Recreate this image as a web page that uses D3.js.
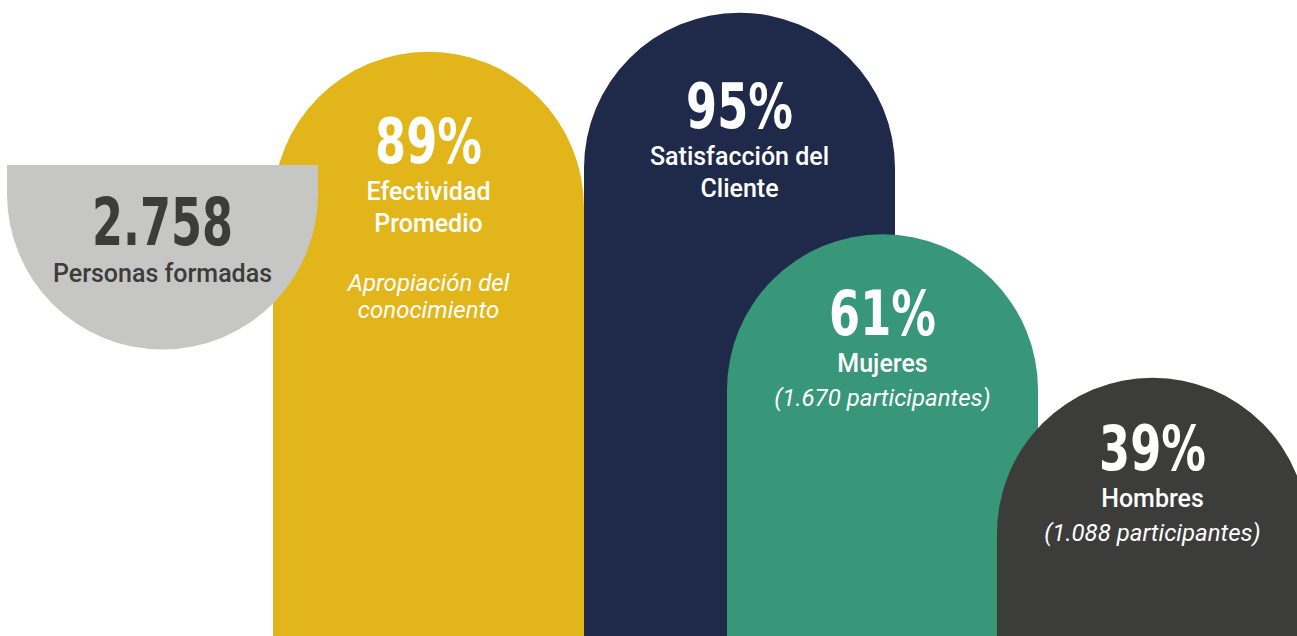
<!DOCTYPE html>
<html>
<head>
<meta charset="utf-8">
<script src="https://cdn.jsdelivr.net/npm/d3@7"></script>
<style>
  body { margin: 0; background: #fff; }
  svg { display: block; }
  .big { font-family: "Liberation Sans Narrow", "DejaVu Sans Condensed", sans-serif; font-weight: 700; }
  .lbl { font-family: Roboto, "Noto Sans", sans-serif; font-weight: 500; }
  .sub { font-family: Roboto, "Noto Sans", sans-serif; font-style: italic; font-weight: 400; }
</style>
</head>
<body>
<svg id="chart" width="1297" height="636"></svg>
<script>
// data
const total = "2.758";
const totalLabel = "Personas formadas";

const keys = ["efectividad", "satisfaccion", "mujeres", "hombres"];
const values = [89, 95, 61, 39];
const labels = [["Efectividad", "Promedio"], ["Satisfacción del", "Cliente"], ["Mujeres"], ["Hombres"]];
const notes = [["Apropiación del", "conocimiento"], [], ["(1.670 participantes)"], ["(1.088 participantes)"]];
const colors = ["#e2b61b", "#1f2a4a", "#389779", "#3c3c3b"];

// layout
const W = 1297, H = 636;
const colW = 311, r = colW / 2;
const lefts = [273, 584, 727, 997];     // left edge of each arch
const numBase = [163, 128, 335, 470];   // baseline of the big number

const svg = d3.select("#chart");

// vertical scale: arch top follows the percentage
const y = d3.scaleLinear().domain([0, 100]).range([632, -20]);
const x = d3.scaleOrdinal().domain(keys).range(lefts);

function arch(x0, top) {
  const cy = top + r;
  return `M${x0},${H}V${cy}A${r},${r} 0 0 1 ${x0 + colW},${cy}V${H}Z`;
}

// squeeze the digits to look like a condensed face
function narrow(sel, k) {
  sel.each(function () {
    const w = this.getComputedTextLength();
    d3.select(this).attr("textLength", w * k).attr("lengthAdjust", "spacingAndGlyphs");
  });
}

const items = keys.map((k, i) => ({ key: k, value: values[i], label: labels[i], note: notes[i], color: colors[i], base: numBase[i] }));

// yellow first so the grey half-disc sits on it
const g = svg.append("g");
g.append("path").datum(items[0])
  .attr("d", d => arch(x(d.key), y(d.value)))
  .attr("fill", d => d.color);

// grey hanging half-disc
const gx = 7, gTop = 165, gCy = 194;
g.append("path")
  .attr("d", `M${gx},${gTop}H${gx + colW}V${gCy}A${r},${r} 0 0 1 ${gx},${gCy}Z`)
  .attr("fill", "#c6c6c5");

g.selectAll("path.col").data(items.slice(1)).join("path")
  .attr("class", "col")
  .attr("d", d => arch(x(d.key), y(d.value)))
  .attr("fill", d => d.color);

// grey text
const gc = gx + r;
svg.append("text").attr("class", "big")
  .attr("x", gc).attr("y", 245).attr("text-anchor", "middle")
  .attr("font-size", 66).attr("fill", "#3c3c3b").text(total)
  .call(narrow, 0.75);
svg.append("text").attr("class", "lbl")
  .attr("x", gc).attr("y", 282).attr("text-anchor", "middle")
  .attr("font-size", 25).attr("fill", "#3c3c3b").text(totalLabel);

// column texts
items.forEach(d => {
  const cx = x(d.key) + r;
  const t = svg.append("g").attr("fill", "#fff").attr("text-anchor", "middle");
  let base = d.base;
  t.append("text").attr("class", "big")
    .attr("x", cx).attr("y", base)
    .attr("font-size", 62).text(d.value + "%")
    .call(narrow, 0.8);
  base += 37;
  d.label.forEach((s, j) => {
    t.append("text").attr("class", "lbl")
      .attr("x", cx).attr("y", base + j * 32)
      .attr("font-size", 25).text(s);
  });
  base += (d.label.length - 1) * 32;
  const gap = d.label.length > 1 ? 59 : 34;
  d.note.forEach((s, j) => {
    t.append("text").attr("class", "sub")
      .attr("x", cx).attr("y", base + gap + j * 27)
      .attr("font-size", 24).text(s);
  });
});
</script>
</body>
</html>
